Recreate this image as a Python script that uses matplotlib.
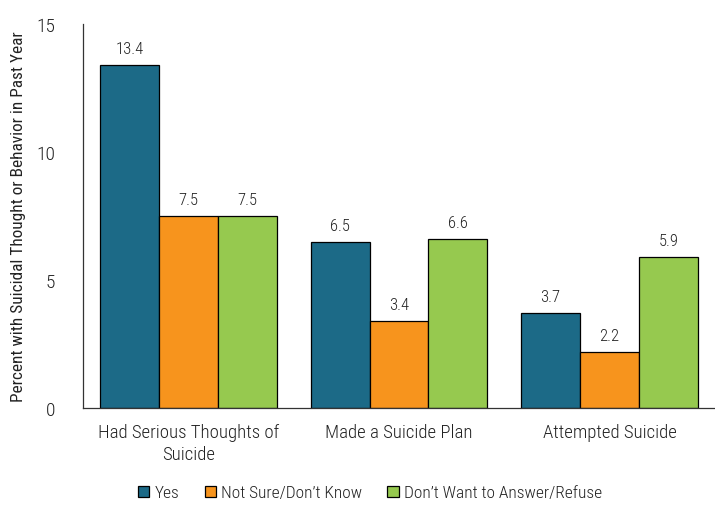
import matplotlib
matplotlib.use("Agg")
import matplotlib.pyplot as plt
import numpy as np

plt.rcParams['font.family'] = ['Roboto Condensed', 'DejaVu Sans']
plt.rcParams['font.weight'] = 'light'

categories = ["Had Serious Thoughts of\nSuicide", "Made a Suicide Plan", "Attempted Suicide"]
series_names = ["Yes", "Not Sure/Don\u2019t Know", "Don\u2019t Want to Answer/Refuse"]
yes = [13.4, 6.5, 3.7]
not_sure = [7.5, 3.4, 2.2]
refuse = [7.5, 6.6, 5.9]
colors = ["#1c6a87", "#f7941d", "#96c94f"]
yticks = [0, 5, 10, 15]

fig = plt.figure(figsize=(7.15, 5.06), dpi=100)
ax = fig.add_axes([83/715, 1-409/506, 632/715, 384/506])

x = np.arange(len(categories))
w = 0.28
for i, (vals, c, n) in enumerate(zip([yes, not_sure, refuse], colors, series_names)):
    bars = ax.bar(x + (i-1)*w, vals, w, color=c, edgecolor="black", linewidth=0.9, label=n)
    for b, v in zip(bars, vals):
        ax.text(b.get_x()+b.get_width()/2, v + 0.35, f"{v:.1f}", ha="center", va="bottom",
                fontsize=12, color="#222222")

ax.set_xlim(-0.5, 2.5)
ax.set_ylim(0, 15)
ax.set_yticks(yticks)
ax.set_yticklabels([str(t) for t in yticks], fontsize=14, color="#222222")
ax.set_xticks(x)
ax.set_xticklabels(categories, fontsize=13.5, color="#222222", linespacing=1.25)
ax.tick_params(axis="x", length=0, pad=11)
ax.tick_params(axis="y", length=0, pad=20)
for s in ["top", "right"]:
    ax.spines[s].set_visible(False)
for s in ["left", "bottom"]:
    ax.spines[s].set_color("#333333")
    ax.spines[s].set_linewidth(0.9)
ax.set_ylabel("Percent with Suicidal Thought or Behavior in Past Year", fontsize=12.4, color="#222222", labelpad=7)

leg = fig.legend(loc="center", bbox_to_anchor=(370/715, 1-494/506), ncol=3, frameon=False,
                 fontsize=12.5, handlelength=0.65, handleheight=0.65, handletextpad=0.3, columnspacing=1.45)
for t in leg.get_texts():
    t.set_color("#222222")

fig.savefig("out.png", dpi=100)
